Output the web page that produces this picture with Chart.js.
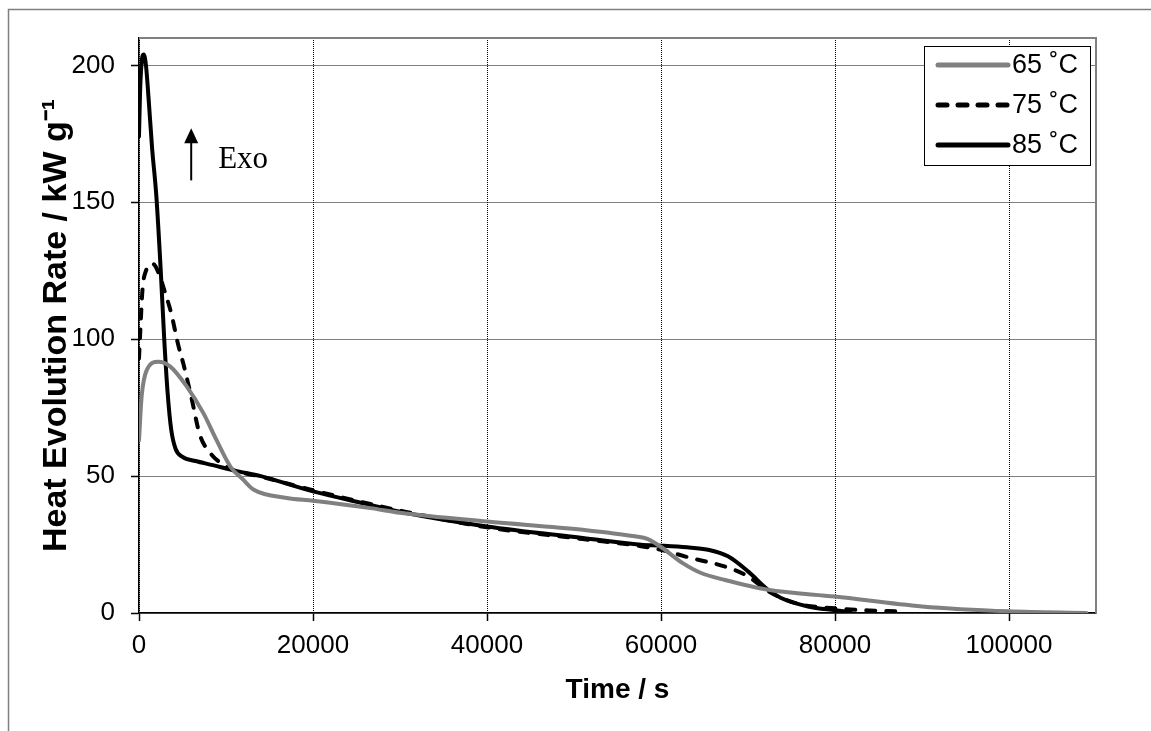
<!DOCTYPE html>
<html>
<head>
<meta charset="utf-8">
<title>Heat evolution</title>
<script src="https://cdn.jsdelivr.net/npm/chart.js@4"></script>
<style>
	body { margin: 0; background: #fff; }
	#wrap { width: 1151px; height: 731px; position: relative; }
</style>
</head>
<body>
<div id="wrap"><canvas id="chart1"></canvas></div>
<script>
// time (s) and heat evolution rate
var t65 = [0, 300, 900, 2200, 3600, 5500, 7400, 8900, 10500, 12000, 13200, 17000, 20000, 26600, 30000, 40000, 51000, 57000, 58500, 60000, 62500, 64600, 67200, 72300, 80000, 90000, 100000, 108900];
var hr65 = [63, 79, 88.8, 91.8, 90, 82.7, 73, 63.2, 53.5, 48.6, 45, 42, 41, 38.3, 36.6, 33.4, 30.4, 28, 27, 24.1, 18.2, 14.6, 12.2, 8.5, 6, 2.4, 0.6, 0];

var t75 = [0, 150, 400, 800, 1600, 2400, 2800, 3700, 4500, 5100, 6000, 7000, 8200, 9700, 11000, 14000, 20000, 26600, 30000, 40000, 51000, 57700, 60000, 63400, 67300, 70000, 72300, 75700, 80000, 84000, 87200];
var hr75 = [93, 103, 118, 125, 127.5, 123, 119, 109.5, 98, 91, 79, 65, 58.4, 54.1, 52, 49.8, 44.8, 39.8, 37.4, 31.3, 27, 24.4, 23.1, 20.1, 17, 13.4, 8, 3.4, 1.7, 0.9, 0.6];

var t85 = [0, 120, 300, 550, 800, 1100, 1500, 2000, 2500, 2900, 3300, 3700, 4200, 5000, 6500, 8500, 11000, 14000, 20000, 26600, 30000, 40000, 51000, 57700, 60000, 63000, 65400, 67700, 70000, 72300, 73800, 76900, 80000, 81800];
var hr85 = [174, 190, 201, 204, 200, 188, 170, 152, 125, 100, 80, 67, 60, 57, 55.5, 54, 52, 50, 44.4, 39.5, 37, 31.6, 27.4, 24.9, 24.6, 24, 23.1, 20.7, 15.2, 8.5, 5.5, 2.4, 1, 0.3];

var seriesLabels = ['65 \u02DAC', '75 \u02DAC', '85 \u02DAC'];
var xTicks = [0, 20000, 40000, 60000, 80000, 100000];
var yTicks = [0, 50, 100, 150, 200];

function pts(t, v) {
	var out = [];
	for (var i = 0; i < t.length; i++) out.push({x: t[i], y: v[i]});
	return out;
}

var sans = '"Liberation Sans", Arial, sans-serif';

var framePlugin = {
	id: 'frame',
	beforeDatasetsDraw: function(chart) {
		var ctx = chart.ctx, a = chart.chartArea;
		ctx.save();
		ctx.strokeStyle = '#808080';
		ctx.lineWidth = 2;
		ctx.beginPath();
		ctx.moveTo(a.left, a.top);
		ctx.lineTo(a.right, a.top);
		ctx.lineTo(a.right, a.bottom);
		ctx.stroke();
		ctx.restore();
	},
	afterDraw: function(chart) {
		var ctx = chart.ctx;
		ctx.save();
		ctx.strokeStyle = '#7f7f7f';
		ctx.lineWidth = 1.5;
		ctx.strokeRect(8.5, 9.5, 1300, 900);
		ctx.restore();
	}
};

var notePlugin = {
	id: 'notes',
	afterDatasetsDraw: function(chart) {
		var ctx = chart.ctx, xs = chart.scales.x, ys = chart.scales.y;
		ctx.save();
		// Exo arrow
		var ax = xs.getPixelForValue(6000);
		var ay1 = ys.getPixelForValue(177), ay2 = ys.getPixelForValue(158);
		ctx.strokeStyle = '#000';
		ctx.fillStyle = '#000';
		ctx.lineWidth = 2;
		ctx.beginPath();
		ctx.moveTo(ax, ay2);
		ctx.lineTo(ax, ay1 + 12);
		ctx.stroke();
		ctx.beginPath();
		ctx.moveTo(ax, ay1);
		ctx.lineTo(ax - 7, ay1 + 15);
		ctx.lineTo(ax + 7, ay1 + 15);
		ctx.closePath();
		ctx.fill();
		ctx.font = '31px "Liberation Serif", "Times New Roman", serif';
		ctx.textBaseline = 'alphabetic';
		ctx.fillText('Exo', xs.getPixelForValue(9100), ys.getPixelForValue(162.5));

		// legend box
		var lx = 924, ly = 46, lw = 166, lh = 119;
		ctx.fillStyle = '#fff';
		ctx.fillRect(lx, ly, lw, lh);
		ctx.strokeStyle = '#000';
		ctx.lineWidth = 1;
		ctx.strokeRect(lx + 0.5, ly + 0.5, lw, lh);
		chart.data.datasets.forEach(function(ds, i) {
			var y = ly + 19 + i * 40;
			ctx.strokeStyle = ds.borderColor;
			ctx.lineWidth = 5;
			ctx.lineCap = 'round';
			ctx.setLineDash(ds.borderDash || []);
			ctx.beginPath();
			ctx.moveTo(lx + 14, y);
			ctx.lineTo(lx + 84, y);
			ctx.stroke();
			ctx.setLineDash([]);
			ctx.fillStyle = '#000';
			ctx.font = '27px ' + sans;
			ctx.textBaseline = 'middle';
			ctx.fillText(ds.label, lx + 88, y + 1);
		});
		ctx.restore();
	}
};

var ctx_1 = document.getElementById('chart1').getContext('2d');

var heatChart = new Chart(ctx_1, {
	type: 'line',
	data: {
		datasets: [{
			label: seriesLabels[0],
			data: pts(t65, hr65),
			borderColor: '#808080',
			borderWidth: 4,
			borderCapStyle: 'round'
		}, {
			label: seriesLabels[1],
			data: pts(t75, hr75),
			borderColor: '#000',
			borderWidth: 4,
			borderDash: [9, 11],
			borderCapStyle: 'round'
		}, {
			label: seriesLabels[2],
			data: pts(t85, hr85),
			borderColor: '#000',
			borderWidth: 4,
			borderCapStyle: 'round'
		}]
	},
	options: {
		responsive: true,
		maintainAspectRatio: false,
		animation: false,
		layout: { padding: { left: 0, top: 38, right: 55, bottom: 0 } },
		elements: {
			point: { radius: 0 },
			line: { cubicInterpolationMode: 'monotone' }
		},
		plugins: {
			legend: { display: false },
			tooltip: { enabled: false }
		},
		scales: {
			x: {
				type: 'linear',
				min: 0,
				max: 110000,
				afterFit: function(s) { s.height = 118; },
				afterBuildTicks: function(s) { s.ticks = xTicks.map(function(v) { return {value: v}; }); },
				ticks: {
					color: '#000',
					padding: 9,
					maxRotation: 0,
					font: { family: sans, size: 26 },
					callback: function(v) { return String(v); }
				},
				grid: { color: '#000', lineWidth: 1, tickLength: 8, tickColor: '#000', tickWidth: 1.5, tickBorderDash: [] },
				border: { color: '#000', width: 1.5, dash: [1, 1] },
				title: {
					display: true,
					text: 'Time / s',
					color: '#000',
					font: { family: sans, size: 28, weight: 'bold' },
					padding: { top: 0, bottom: 24 }
				}
			},
			y: {
				min: 0,
				max: 210,
				afterFit: function(s) { s.width = 139; },
				afterBuildTicks: function(s) { s.ticks = yTicks.map(function(v) { return {value: v}; }); },
				ticks: {
					color: '#000',
					padding: 16,
					font: { family: sans, size: 26 }
				},
				grid: { color: '#000', lineWidth: 1, tickLength: 8, tickColor: '#000', tickWidth: 1.5, tickBorderDash: [] },
				border: { color: '#000', width: 1.5, dash: [1, 1] },
				title: {
					display: true,
					text: 'Heat Evolution Rate / kW g\u207B\u00B9',
					color: '#000',
					font: { family: sans, size: 34, weight: 'bold' },
					padding: { top: 36, bottom: 0 }
				}
			}
		}
	},
	plugins: [framePlugin, notePlugin]
});
</script>
</body>
</html>
